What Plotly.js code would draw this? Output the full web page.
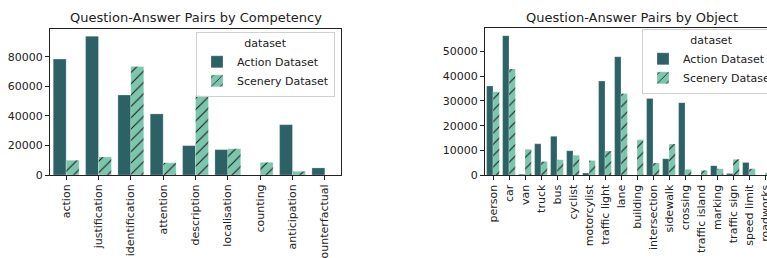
<!DOCTYPE html>
<html>
<head>
<meta charset="utf-8">
<script src="https://cdn.plot.ly/plotly-3.0.1.min.js"></script>
<style>
html, body { margin: 0; padding: 0; overflow: hidden; background: #fff; }
#chart { width: 790px; height: 258px; }
</style>
</head>
<body>
<div id="chart"></div>
<script>
// Left chart: by competency
const competencies = ["action", "justification", "identification", "attention", "description", "localisation", "counting", "anticipation", "counterfactual"];
const compAction  = [78500, 94000, 54200, 41400, 19900, 17200, 0, 34100, 4800];
const compScenery = [10000, 12200, 73500, 8300, 54200, 17800, 8600, 2500, 0];

// Right chart: by object
const objects = ["person", "car", "van", "truck", "bus", "cyclist", "motorcylist", "traffic light", "lane", "building", "intersection", "sidewalk", "crossing", "traffic island", "marking", "traffic sign", "speed limit", "roadworks"];
const objAction  = [36000, 56300, 400, 12700, 15700, 9900, 900, 38000, 47800, 0, 31000, 6700, 29300, 0, 3900, 700, 5200, 0];
const objScenery = [33700, 42900, 10500, 5600, 6300, 8100, 6000, 9800, 33000, 14300, 5000, 12600, 2400, 2000, 2600, 6500, 2600, 1000];

const seriesNames = ["Action Dataset", "Scenery Dataset"];

const actionColor = "#2c6266";
const sceneryColor = "#7cc6ae";
const W = 790, H = 258;
const FONT = "DejaVu Sans, sans-serif";

function actionTrace(x, y, xa, ya) {
  return {type: "bar", x: x, y: y, name: seriesNames[0], xaxis: xa, yaxis: ya,
    legend: xa === "x" ? "legend" : "legend2", showlegend: true,
    marker: {color: actionColor, line: {color: "rgba(255,255,255,0.5)", width: 0.5}},
    hoverinfo: "x+y"};
}
function sceneryTrace(x, y, xa, ya) {
  return {type: "bar", x: x, y: y, name: seriesNames[1], xaxis: xa, yaxis: ya,
    legend: xa === "x" ? "legend" : "legend2", showlegend: true,
    marker: {color: sceneryColor, line: {color: "rgba(255,255,255,0.5)", width: 0.5},
      pattern: {shape: "/", fgcolor: "#111", size: 8, solidity: 0.12, fillmode: "replace", bgcolor: sceneryColor}},
    hoverinfo: "x+y"};
}

const data = [
  actionTrace(competencies, compAction, "x", "y"),
  sceneryTrace(competencies, compScenery, "x", "y"),
  actionTrace(objects, objAction, "x2", "y2"),
  sceneryTrace(objects, objScenery, "x2", "y2")
];

const axisCommon = {
  showline: true, linecolor: "#222", linewidth: 1, mirror: true,
  ticks: "outside", ticklen: 4, tickcolor: "#222", tickwidth: 1,
  showgrid: false, zeroline: false,
  tickfont: {family: FONT, size: 11, color: "#222"}
};

const layout = {
  width: W, height: H,
  margin: {l: 0, r: 0, t: 0, b: 0},
  paper_bgcolor: "#fff", plot_bgcolor: "#fff",
  barmode: "group", bargap: 0.2, bargroupgap: 0,
  font: {family: FONT, size: 11, color: "#222"},
  xaxis: Object.assign({}, axisCommon, {domain: [50 / W, 341 / W], anchor: "y", type: "category",
    range: [-0.5, competencies.length - 0.5], tickangle: -90}),
  yaxis: Object.assign({}, axisCommon, {domain: [(H - 175) / H, (H - 29) / H], anchor: "x",
    range: [0, 98900], tickmode: "linear", tick0: 0, dtick: 20000, tickformat: "d"}),
  xaxis2: Object.assign({}, axisCommon, {domain: [485 / W, 773 / W], anchor: "y2", type: "category",
    range: [-0.5, objects.length - 0.5], tickangle: -90}),
  yaxis2: Object.assign({}, axisCommon, {domain: [(H - 175.3) / H, (H - 28) / H], anchor: "x2",
    range: [0, 59400], tickmode: "linear", tick0: 0, dtick: 10000, tickformat: "d"}),
  legend: {x: 335 / W, xanchor: "right", y: 1 - 32 / H, yanchor: "top",
    bgcolor: "rgba(255,255,255,0.85)", bordercolor: "#d0d0d0", borderwidth: 1,
    font: {family: FONT, size: 11, color: "#222"},
    title: {text: "dataset", side: "top center", font: {family: FONT, size: 11, color: "#222"}},
    tracegroupgap: 0, itemwidth: 30},
  legend2: {x: 642 / W, xanchor: "left", y: 1 - 29 / H, yanchor: "top",
    bgcolor: "rgba(255,255,255,0.85)", bordercolor: "#d0d0d0", borderwidth: 1,
    font: {family: FONT, size: 11, color: "#222"},
    title: {text: "dataset", side: "top center", font: {family: FONT, size: 11, color: "#222"}},
    tracegroupgap: 0, itemwidth: 30},
  annotations: [
    {text: "Question-Answer Pairs by Competency", xref: "paper", yref: "paper",
     x: 195.5 / W, y: 1 - 17 / H, xanchor: "center", yanchor: "middle", showarrow: false,
     font: {family: FONT, size: 13, color: "#222"}},
    {text: "Question-Answer Pairs by Object", xref: "paper", yref: "paper",
     x: 632 / W, y: 1 - 17 / H, xanchor: "center", yanchor: "middle", showarrow: false,
     font: {family: FONT, size: 13, color: "#222"}}
  ]
};

Plotly.newPlot("chart", data, layout, {displayModeBar: false, staticPlot: true});
</script>
</body>
</html>
